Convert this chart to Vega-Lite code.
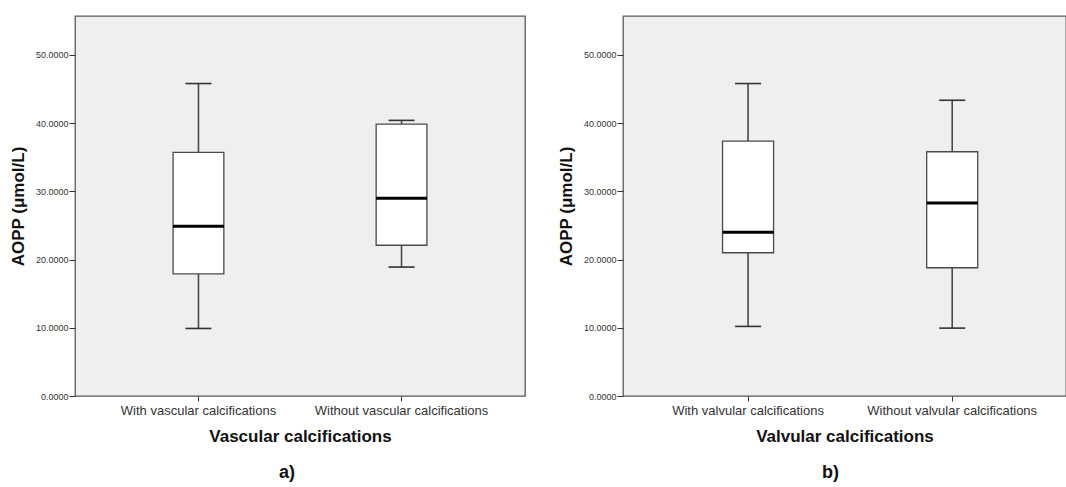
{
  "$schema": "https://vega.github.io/schema/vega-lite/v6.json",
  "padding": {"left": 8, "top": 15, "right": 0, "bottom": 0},
  "spacing": 30,
  "datasets": {
    "vascular": [
      {"group": "With vascular calcifications", "lower": 9.9, "q1": 17.9, "median": 24.9, "q3": 35.7, "upper": 45.8},
      {"group": "Without vascular calcifications", "lower": 18.9, "q1": 22.1, "median": 29.0, "q3": 39.85, "upper": 40.4}
    ],
    "valvular": [
      {"group": "With valvular calcifications", "lower": 10.2, "q1": 21.0, "median": 24.0, "q3": 37.35, "upper": 45.8},
      {"group": "Without valvular calcifications", "lower": 9.95, "q1": 18.8, "median": 28.3, "q3": 35.8, "upper": 43.35}
    ]
  },
  "config": {
    "font": "Liberation Sans",
    "view": {"fill": "#efefef", "stroke": "#5a5a5a", "strokeWidth": 1.3},
    "axis": {"grid": false, "domain": false, "tickColor": "#333", "labelColor": "#333", "titleColor": "#111", "titleFont": "Liberation Sans", "labelFont": "Liberation Sans"},
    "title": {"font": "Liberation Sans", "color": "#111"}
  },
  "hconcat": [
    {
      "width": 450,
      "height": 380,
      "data": {"name": "vascular"},
      "title": {"text": "a)", "orient": "bottom", "fontSize": 18, "fontWeight": "bold", "offset": 20, "dx": -13},
      "encoding": {
        "x": {"field": "group", "type": "nominal", "sort": null,
          "scale": {"paddingInner": 0.75, "paddingOuter": 0.483},
          "axis": {"title": "Vascular calcifications", "labelAngle": 0, "labelFontSize": 13, "labelPadding": 3, "tickSize": 5, "titleFontSize": 17, "titleFontWeight": "bold", "titlePadding": 11}}
      },
      "layer": [
        {"mark": {"type": "rule", "color": "#4a4a4a", "strokeWidth": 1.6},
         "encoding": {"y": {"field": "lower", "type": "quantitative", "title": "AOPP (μmol/L)", "scale": {"domain": [0, 55.7], "nice": false},
           "axis": {"values": [0, 10, 20, 30, 40, 50], "format": ".4f", "labelFontSize": 9, "tickSize": 6, "labelPadding": 1, "titleFontSize": 17, "titleFontWeight": "bold", "titlePadding": 8}},
           "y2": {"field": "upper"}}},
        {"mark": {"type": "bar", "fill": "white", "stroke": "#4a4a4a", "strokeWidth": 1.3},
         "encoding": {"y": {"field": "q1", "type": "quantitative", "title": "AOPP (μmol/L)"}, "y2": {"field": "q3"}}},
        {"mark": {"type": "tick", "color": "#000", "opacity": 1, "thickness": 3, "size": 51},
         "encoding": {"y": {"field": "median", "type": "quantitative", "title": "AOPP (μmol/L)"}}},
        {"mark": {"type": "tick", "color": "#333", "opacity": 1, "thickness": 1.6, "size": 26},
         "encoding": {"y": {"field": "upper", "type": "quantitative", "title": "AOPP (μmol/L)"}}},
        {"mark": {"type": "tick", "color": "#333", "opacity": 1, "thickness": 1.6, "size": 26},
         "encoding": {"y": {"field": "lower", "type": "quantitative", "title": "AOPP (μmol/L)"}}}
      ]
    },
    {
      "width": 443,
      "height": 380,
      "data": {"name": "valvular"},
      "title": {"text": "b)", "orient": "bottom", "fontSize": 18, "fontWeight": "bold", "offset": 20, "dx": -14},
      "encoding": {
        "x": {"field": "group", "type": "nominal", "sort": null,
          "scale": {"paddingInner": 0.75, "paddingOuter": 0.46, "align": 0.53},
          "axis": {"title": "Valvular calcifications", "labelAngle": 0, "labelFontSize": 13, "labelPadding": 3, "tickSize": 5, "titleFontSize": 17, "titleFontWeight": "bold", "titlePadding": 11}}
      },
      "layer": [
        {"mark": {"type": "rule", "color": "#4a4a4a", "strokeWidth": 1.6},
         "encoding": {"y": {"field": "lower", "type": "quantitative", "title": "AOPP (μmol/L)", "scale": {"domain": [0, 55.7], "nice": false},
           "axis": {"values": [0, 10, 20, 30, 40, 50], "format": ".4f", "labelFontSize": 9, "tickSize": 6, "labelPadding": 1, "titleFontSize": 17, "titleFontWeight": "bold", "titlePadding": 8}},
           "y2": {"field": "upper"}}},
        {"mark": {"type": "bar", "fill": "white", "stroke": "#4a4a4a", "strokeWidth": 1.3},
         "encoding": {"y": {"field": "q1", "type": "quantitative", "title": "AOPP (μmol/L)"}, "y2": {"field": "q3"}}},
        {"mark": {"type": "tick", "color": "#000", "opacity": 1, "thickness": 3, "size": 51},
         "encoding": {"y": {"field": "median", "type": "quantitative", "title": "AOPP (μmol/L)"}}},
        {"mark": {"type": "tick", "color": "#333", "opacity": 1, "thickness": 1.6, "size": 26},
         "encoding": {"y": {"field": "upper", "type": "quantitative", "title": "AOPP (μmol/L)"}}},
        {"mark": {"type": "tick", "color": "#333", "opacity": 1, "thickness": 1.6, "size": 26},
         "encoding": {"y": {"field": "lower", "type": "quantitative", "title": "AOPP (μmol/L)"}}}
      ]
    }
  ]
}
